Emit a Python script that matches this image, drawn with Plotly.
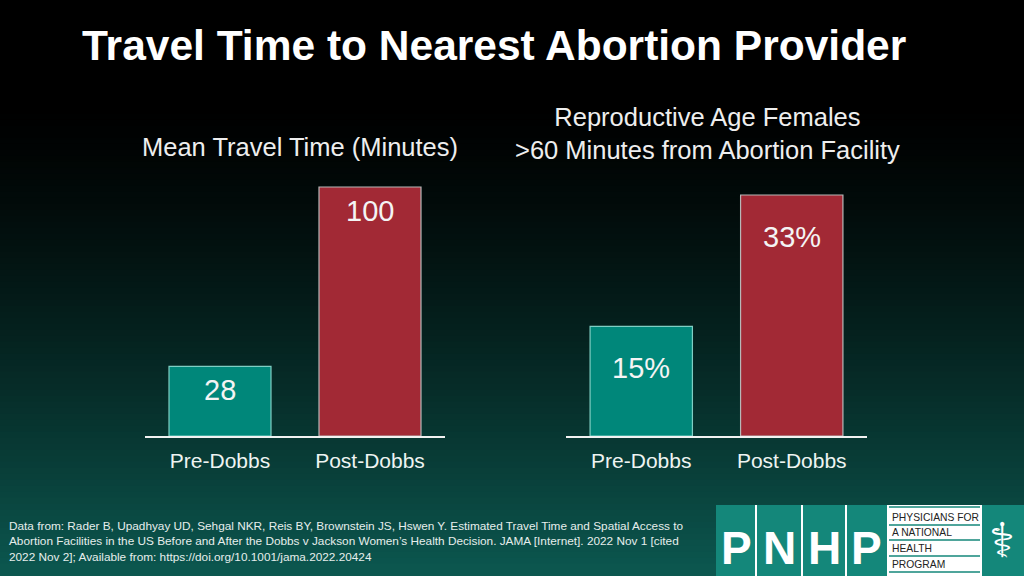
import plotly.graph_objects as go
from plotly.subplots import make_subplots

W, H = 1024, 576

# data
periods = ["Pre-Dobbs", "Post-Dobbs"]
travel_minutes = [28, 100]
pct_over_60 = [15, 33]
travel_labels = ["28", "100"]
pct_labels = ["15%", "33%"]

bar_colors = ["#00877a", "#a22935"]
bar_edges = ["#7fcfc4", "#b8b8b8"]

title = "Travel Time to Nearest Abortion Provider"
sub_left = "Mean Travel Time (Minutes)"
sub_right = "Reproductive Age Females<br>>60 Minutes from Abortion Facility"
source = ("Data from: Rader B, Upadhyay UD, Sehgal NKR, Reis BY, Brownstein JS, Hswen Y. Estimated Travel Time and Spatial Access to<br>"
          "Abortion Facilities in the US Before and After the Dobbs v Jackson Women\u2019s Health Decision. JAMA [Internet]. 2022 Nov 1 [cited<br>"
          "2022 Nov 2]; Available from: https://doi.org/10.1001/jama.2022.20424")


def px_x(p):
    return p / W


def px_y(p):
    return 1 - p / H


fig = make_subplots(rows=1, cols=2)

fig.add_trace(go.Bar(x=periods, y=travel_minutes, marker=dict(color=bar_colors, line=dict(color=bar_edges, width=1.2)),
                     width=0.68, hoverinfo="skip"), row=1, col=1)
fig.add_trace(go.Bar(x=periods, y=pct_over_60, marker=dict(color=bar_colors, line=dict(color=bar_edges, width=1.2)),
                     width=0.68, hoverinfo="skip"), row=1, col=2)

# value labels inside the bars
for xs, ys, labs, shift, ref in [(periods, travel_minutes, travel_labels, -24, ("x", "y")),
                                  (periods, pct_over_60, pct_labels, -42, ("x2", "y2"))]:
    for xv, yv, lab in zip(xs, ys, labs):
        fig.add_annotation(x=xv, y=yv, xref=ref[0], yref=ref[1], text=lab, showarrow=False,
                           yanchor="middle", yshift=shift,
                           font=dict(family="Liberation Sans, Arial", size=29, color="#f4f4f4"))

y_bot, y_top = px_y(436), px_y(150)
axis_x = dict(showline=True, linecolor="#f2f2f2", linewidth=2, showgrid=False, zeroline=False,
              ticks="outside", ticklen=5, tickcolor="rgba(0,0,0,0)",
              tickfont=dict(family="Liberation Sans, Arial", size=21, color="#eef4f2"), range=[-0.5, 1.5])
fig.update_xaxes(axis_x)
fig.update_xaxes(domain=[px_x(145), px_x(445)], row=1, col=1)
fig.update_xaxes(domain=[px_x(566), px_x(867)], row=1, col=2)
fig.update_yaxes(visible=False, domain=[y_bot, y_top])
fig.update_yaxes(range=[0, 286 / 2.49], row=1, col=1)
fig.update_yaxes(range=[0, 286 / 7.303], row=1, col=2)

# background gradient, black at the top fading to dark teal
shapes = []
n = 96
top_c = (0, 0, 0)
bot_c = (12, 88, 80)
for i in range(n):
    y0 = i * H / n
    y1 = (i + 1) * H / n
    t = max(0.0, (y0 + y1) / 2 / H - 0.18) / 0.82
    t = t ** 1.35
    c = tuple(int(round(a + (b - a) * t)) for a, b in zip(top_c, bot_c))
    shapes.append(dict(type="rect", xref="paper", yref="paper", x0=0, x1=1, y0=px_y(y1), y1=px_y(y0) + 0.001,
                       fillcolor="rgb(%d,%d,%d)" % c, line=dict(width=0), layer="below"))

# logo
teal = "#14877a"
shapes.append(dict(type="rect", xref="paper", yref="paper", x0=px_x(716), x1=1, y0=0, y1=px_y(505),
                   fillcolor=teal, line=dict(width=0), layer="above"))
for xd in [756, 802, 846]:
    shapes.append(dict(type="line", xref="paper", yref="paper", x0=px_x(xd), x1=px_x(xd), y0=0, y1=px_y(505),
                       line=dict(color="white", width=2), layer="above"))
shapes.append(dict(type="rect", xref="paper", yref="paper", x0=px_x(887), x1=px_x(982), y0=0, y1=px_y(505),
                   fillcolor="white", line=dict(width=0), layer="above"))
for yl in [507, 525, 540, 556, 572]:
    shapes.append(dict(type="line", xref="paper", yref="paper", x0=px_x(889), x1=px_x(980), y0=px_y(yl), y1=px_y(yl),
                       line=dict(color=teal, width=1.5), layer="above"))

fig.update_layout(shapes=shapes)

ann = []
ann.append(dict(x=px_x(80), y=px_y(45), xref="paper", yref="paper", text="<b>" + title + "</b>", showarrow=False,
                xanchor="left", yanchor="middle",
                font=dict(family="Liberation Sans Narrow, Liberation Sans, Arial", size=42.5, color="white")))
ann.append(dict(x=px_x(300), y=px_y(147), xref="paper", yref="paper", text=sub_left, showarrow=False,
                xanchor="center", yanchor="middle", font=dict(family="Liberation Sans, Arial", size=25.5, color="#eeeeee")))
ann.append(dict(x=px_x(707), y=px_y(133.5), xref="paper", yref="paper", text=sub_right, showarrow=False,
                xanchor="center", yanchor="middle", font=dict(family="Liberation Sans, Arial", size=25.5, color="#eeeeee")))
ann.append(dict(x=px_x(7), y=px_y(541), xref="paper", yref="paper", text=source, showarrow=False, align="left",
                xanchor="left", yanchor="middle", font=dict(family="Liberation Sans, Arial", size=11.8, color="#e6eeec")))
for lx, letter in zip([736, 779, 824, 866], "PNHP"):
    ann.append(dict(x=px_x(lx), y=px_y(548), xref="paper", yref="paper", text="<b>" + letter + "</b>", showarrow=False,
                    xanchor="center", yanchor="middle",
                    font=dict(family="Liberation Sans, Arial", size=46, color="white")))
for ly, line in zip([517, 532, 548, 564], ["PHYSICIANS FOR", "A NATIONAL", "HEALTH", "PROGRAM"]):
    ann.append(dict(x=px_x(890), y=px_y(ly), xref="paper", yref="paper", text=line, showarrow=False,
                    xanchor="left", yanchor="middle",
                    font=dict(family="Liberation Sans, Arial", size=10.3, color="#222222")))
ann.append(dict(x=px_x(1002), y=px_y(540), xref="paper", yref="paper", text="\u2695", showarrow=False,
                xanchor="center", yanchor="middle", font=dict(family="DejaVu Sans", size=48, color="white")))

fig.update_layout(annotations=list(fig.layout.annotations) + ann)

fig.update_layout(width=W, height=H, margin=dict(l=0, r=0, t=0, b=0), showlegend=False,
                  paper_bgcolor="black", plot_bgcolor="rgba(0,0,0,0)", bargap=0.32)

# remove the browser's default page margin so the figure fills the window
fig.write_html("out.html", config={"displayModeBar": False},
               post_script="document.body.style.margin='0';document.body.style.overflow='hidden';")
